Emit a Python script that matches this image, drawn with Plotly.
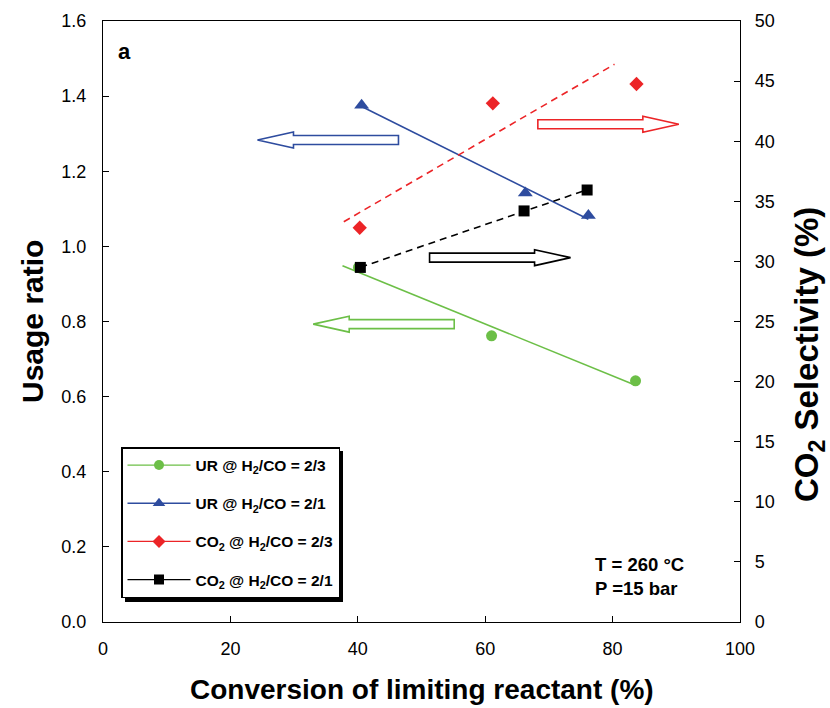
import numpy as np
import plotly.graph_objects as go

# Usage ratio vs conversion of limiting reactant (%)
conv_ur_23 = [40.1, 61.0, 83.6]
ur_23 = [0.944, 0.762, 0.642]
conv_ur_21 = [40.6, 66.3, 76.2]
ur_21 = [1.376, 1.142, 1.082]

# CO2 selectivity (%) vs conversion of limiting reactant (%)
conv_co2_23 = [40.3, 61.2, 83.75]
co2_23 = [32.8, 43.15, 44.76]
conv_co2_21 = [40.4, 66.1, 76.0]
co2_21 = [29.5, 34.2, 35.94]

# dashed guide for the CO2 @ H2/CO = 2/3 series
co2_23_guide_x = [37.8, 80.3]
co2_23_guide_y = [33.3, 46.4]

x_ticks = [0, 20, 40, 60, 80, 100]
ur_ticks = [0.0, 0.2, 0.4, 0.6, 0.8, 1.0, 1.2, 1.4, 1.6]
co2_ticks = [0, 5, 10, 15, 20, 25, 30, 35, 40, 45, 50]

GREEN = "#6CBF47"
BLUE = "#2E4C9F"
RED = "#EC2427"
BLACK = "#000000"
FONT = "Liberation Sans, Arial, sans-serif"

ML, MR, MT, MB = 103, 90, 21, 86
W, H = 830, 708
PW, PH = W - ML - MR, H - MT - MB
X_RANGE = [0, 100]
Y_RANGE = [0, 1.6]
Y2_RANGE = [0, 50]


def linear_trend(x, y, back=0.0):
    k, b = np.polyfit(x, y, 1)
    xs = np.array([min(x) - back, max(x)])
    return xs, k * xs + b


def block_arrow(tip_x, tip_y, direction, color):
    """Hollow block arrow, tip given in data units, size in pixels."""
    sx = (X_RANGE[1] - X_RANGE[0]) / PW
    sy = (Y_RANGE[1] - Y_RANGE[0]) / PH
    length, head_len, head_half, shaft_half = 141, 36, 8, 4.5
    d = direction
    pts = [(0, 0), (-head_len * d, head_half), (-head_len * d, shaft_half),
           (-length * d, shaft_half), (-length * d, -shaft_half),
           (-head_len * d, -shaft_half), (-head_len * d, -head_half)]
    path = "M " + " L ".join(f"{tip_x + px * sx:.4f},{tip_y + py * sy:.5f}" for px, py in pts) + " Z"
    return dict(type="path", xref="x", yref="y", path=path,
                line=dict(color=color, width=1.6), fillcolor="white", layer="above")


def px_to_paper(px, py):
    return (px - ML) / PW, (H - MB - py) / PH


fig = go.Figure()

# trend lines
gx, gy = linear_trend(conv_ur_23, ur_23, back=2.5)
fig.add_trace(go.Scatter(x=gx, y=gy, mode="lines", line=dict(color=GREEN, width=1.6),
                         showlegend=False, hoverinfo="skip"))
bx, by = linear_trend(conv_ur_21, ur_21)
fig.add_trace(go.Scatter(x=bx, y=by, mode="lines", line=dict(color=BLUE, width=1.6),
                         showlegend=False, hoverinfo="skip"))
fig.add_trace(go.Scatter(x=co2_23_guide_x, y=co2_23_guide_y, yaxis="y2", mode="lines",
                         line=dict(color=RED, width=1.6, dash="7px,5px"),
                         showlegend=False, hoverinfo="skip"))
kx, ky = linear_trend(conv_co2_21, co2_21)
fig.add_trace(go.Scatter(x=kx, y=ky, yaxis="y2", mode="lines",
                         line=dict(color=BLACK, width=1.6, dash="7px,5px"),
                         showlegend=False, hoverinfo="skip"))

# measured points
fig.add_trace(go.Scatter(x=conv_ur_23, y=ur_23, mode="markers",
                         marker=dict(symbol="circle", size=11, color=GREEN), showlegend=False))
fig.add_trace(go.Scatter(x=conv_ur_21, y=ur_21, mode="markers",
                         marker=dict(symbol="triangle-up", size=13, color=BLUE), showlegend=False))
fig.add_trace(go.Scatter(x=conv_co2_23, y=co2_23, yaxis="y2", mode="markers",
                         marker=dict(symbol="diamond", size=11, color=RED), showlegend=False))
fig.add_trace(go.Scatter(x=conv_co2_21, y=co2_21, yaxis="y2", mode="markers",
                         marker=dict(symbol="square", size=11, color=BLACK), showlegend=False))

# legend entries
legend_items = [
    ("UR @ H<sub>2</sub>/CO = 2/3", GREEN, "circle", 10),
    ("UR @ H<sub>2</sub>/CO = 2/1", BLUE, "triangle-up", 11),
    ("CO<sub>2</sub> @ H<sub>2</sub>/CO = 2/3", RED, "diamond", 10),
    ("CO<sub>2</sub> @ H<sub>2</sub>/CO = 2/1", BLACK, "square", 10),
]
for i, (name, color, sym, size) in enumerate(legend_items):
    fig.add_trace(go.Scatter(x=[None], y=[None], mode="lines+markers", name=name,
                             legendgroup=f"g{i}",
                             line=dict(color=color, width=1.3),
                             marker=dict(symbol=sym, size=size, color=color)))

shapes = [
    block_arrow(24.25, 1.283, -1, BLUE),
    block_arrow(90.4, 1.325, 1, RED),
    block_arrow(73.4, 0.970, 1, BLACK),
    block_arrow(33.0, 0.793, -1, GREEN),
]

# legend drop shadow
sx0, sy0 = px_to_paper(125, 602)
sx1, sy1 = px_to_paper(343, 451)
shapes.insert(0, dict(type="rect", xref="paper", yref="paper", x0=sx0, y0=sy0, x1=sx1, y1=sy1,
                      fillcolor="black", line=dict(width=0), layer="below"))

axis_common = dict(showline=True, linecolor="black", linewidth=1.3, ticks="inside",
                   ticklen=6, tickwidth=1.2, tickcolor="black", showgrid=False,
                   zeroline=False, tickfont=dict(family=FONT, size=18, color="black"))

fig.update_layout(
    width=W, height=H,
    margin=dict(l=ML, r=MR, t=MT, b=MB),
    paper_bgcolor="white", plot_bgcolor="white",
    font=dict(family=FONT, color="black"),
    xaxis=dict(range=X_RANGE, tickvals=x_ticks, mirror=True, ticklabelstandoff=10,
               **axis_common),
    yaxis=dict(range=Y_RANGE, tickvals=ur_ticks, tickformat=".1f", ticklabelstandoff=12,
               **axis_common),
    yaxis2=dict(range=Y2_RANGE, tickvals=co2_ticks, overlaying="y", side="right",
                ticklabelstandoff=10, **axis_common),
    legend=dict(x=(121 - ML) / PW, y=(H - MB - 447) / PH, xanchor="left", yanchor="top",
                bgcolor="white", bordercolor="black", borderwidth=1.5,
                traceorder="grouped", tracegroupgap=15, itemwidth=63,
                font=dict(family=FONT, size=15.5, color="black", weight="bold")),
    shapes=shapes,
    showlegend=True,
)

annotations = [
    dict(text="<b>a</b>", x=(124.5 - ML) / PW, y=(H - MB - 51.5) / PH, xref="paper", yref="paper",
         xanchor="center", yanchor="middle",
         showarrow=False, font=dict(family=FONT, size=22, color="black")),
    dict(text="<b>T = 260 °C<br>P =15 bar</b>", x=(593 - ML) / PW, y=(H - MB - 576) / PH,
         xref="paper", yref="paper", xanchor="left", yanchor="middle", align="left",
         showarrow=False, font=dict(family=FONT, size=18.5, color="black")),
    dict(text="<b>Conversion of limiting reactant (%)</b>", x=0.5, y=(H - MB - 690) / PH,
         xref="paper", yref="paper", xanchor="center", yanchor="middle", showarrow=False,
         font=dict(family=FONT, size=28, color="black")),
    dict(text="<b>Usage ratio</b>", x=(32 - ML) / PW, y=(H - MB - 322) / PH, textangle=-90,
         xref="paper", yref="paper", xanchor="center", yanchor="middle", showarrow=False,
         font=dict(family=FONT, size=30, color="black")),
    dict(text="<b>CO<sub>2</sub> Selectivity (%)</b>", x=(809 - ML) / PW, y=(H - MB - 355) / PH,
         textangle=-90, xref="paper", yref="paper", xanchor="center", yanchor="middle",
         showarrow=False, font=dict(family=FONT, size=33, color="black")),
]
fig.update_layout(annotations=annotations)

fig.write_html("out.html")
